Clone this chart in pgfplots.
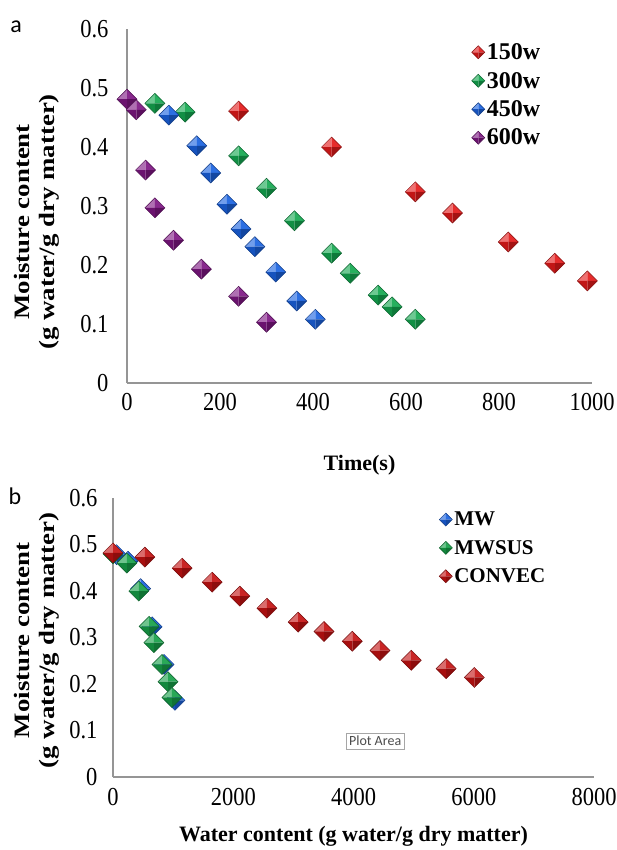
\documentclass[border=0pt]{standalone}
\usepackage{pgfplots}
\pgfplotsset{compat=1.18}
\usepackage{fontspec}
\setmainfont{Liberation Serif}
\newfontfamily\calibri{Carlito}

\definecolor{c150}{HTML}{E41A1A}
\definecolor{c300}{HTML}{14A850}
\definecolor{c450}{HTML}{1A62E0}
\definecolor{c600}{HTML}{7E1683}
\definecolor{cconv}{HTML}{C41212}
\definecolor{cmws}{HTML}{16A048}
\definecolor{axgray}{HTML}{959595}

% pyramid-style diamond mark, four shaded facets
\newcommand{\pyrmark}[2]{%
  \pgfdeclareplotmark{#1}{%
    \pgfsetfillcolor{#2!62!white}%
    \pgfpathmoveto{\pgfpointorigin}%
    \pgfpathlineto{\pgfqpoint{-\pgfplotmarksize}{0pt}}%
    \pgfpathlineto{\pgfqpoint{0pt}{\pgfplotmarksize}}%
    \pgfpathclose\pgfusepathqfill
    \pgfsetfillcolor{#2!92!white}%
    \pgfpathmoveto{\pgfpointorigin}%
    \pgfpathlineto{\pgfqpoint{0pt}{\pgfplotmarksize}}%
    \pgfpathlineto{\pgfqpoint{\pgfplotmarksize}{0pt}}%
    \pgfpathclose\pgfusepathqfill
    \pgfsetfillcolor{#2!72!black}%
    \pgfpathmoveto{\pgfpointorigin}%
    \pgfpathlineto{\pgfqpoint{\pgfplotmarksize}{0pt}}%
    \pgfpathlineto{\pgfqpoint{0pt}{-\pgfplotmarksize}}%
    \pgfpathclose\pgfusepathqfill
    \pgfsetfillcolor{#2!85!black}%
    \pgfpathmoveto{\pgfpointorigin}%
    \pgfpathlineto{\pgfqpoint{0pt}{-\pgfplotmarksize}}%
    \pgfpathlineto{\pgfqpoint{-\pgfplotmarksize}{0pt}}%
    \pgfpathclose\pgfusepathqfill
    \pgfsetstrokecolor{#2!60!black}%
    \pgfsetlinewidth{0.5pt}%
    \pgfpathmoveto{\pgfqpoint{0pt}{\pgfplotmarksize}}%
    \pgfpathlineto{\pgfqpoint{\pgfplotmarksize}{0pt}}%
    \pgfpathlineto{\pgfqpoint{0pt}{-\pgfplotmarksize}}%
    \pgfpathlineto{\pgfqpoint{-\pgfplotmarksize}{0pt}}%
    \pgfpathclose\pgfusepathqstroke
  }}
\pyrmark{m150}{c150}
\pyrmark{m300}{c300}
\pyrmark{m450}{c450}
\pyrmark{m600}{c600}
\pyrmark{mconv}{cconv}
\pyrmark{mmws}{cmws}

\newcommand{\ylab}{\scalebox{1.22}[1]{Moisture content}\\\scalebox{1.22}[1]{(g water/g dry matter)}}

\pgfplotsset{
  every axis/.append style={
    scale only axis,
    anchor=south west,
    axis x line*=bottom,
    axis y line*=left,
    axis line style={draw=axgray, line width=1.3pt},
    major tick length=0pt,
    ymin=0, ymax=0.6,
    ytick={0,0.1,0.2,0.3,0.4,0.5,0.6},
    /pgf/number format/assume math mode=true,
    /pgf/number format/set thousands separator={},
    xticklabel={\scalebox{1}[1.15]{\pgfmathprintnumber{\tick}}},
    yticklabel={\scalebox{1}[1.15]{\pgfmathprintnumber[fixed,precision=1]{\tick}}},
    tick label style={font=\fontsize{22.5}{24}\selectfont},
    label style={font=\bfseries\fontsize{22}{25}\selectfont, align=center},
    legend style={draw=none, fill=none, font=\bfseries\fontsize{24}{26}\selectfont,
      anchor=north west, row sep=7pt, inner sep=0pt},
    legend cell align=left,
    legend image code/.code={\draw[#1, mark size=6.5pt] plot coordinates {(0.23cm,0cm)};},
    only marks,
    mark size=10pt,
  },
}

\begin{document}
\begin{tikzpicture}
\useasboundingbox (0,0) rectangle (617pt,-850pt);

\begin{axis}[
    at={(127pt,-383pt)},
    width=465pt, height=354pt,
    xmin=0, xmax=1000,
    xtick={0,200,400,600,800,1000},
    xticklabel style={yshift=-7pt},
    yticklabel style={xshift=-15pt},
    xlabel={Time(s)},
    xlabel style={at={(axis description cs:0.5,0)}, anchor=center, yshift=-82pt},
    ylabel={\ylab},
    ylabel style={at={(axis description cs:-0.194,0.455)}, anchor=center},
    legend style={at={(axis description cs:0.741,0.965)}},
]
\addplot[mark=m150] coordinates {(240,0.461) (440,0.400) (620,0.324) (700,0.288) (820,0.239) (920,0.203) (990,0.173)};
\addlegendentry{150w}
\addplot[mark=m300] coordinates {(60,0.474) (125,0.459) (240,0.385) (300,0.330) (360,0.275) (440,0.220) (480,0.186) (540,0.149) (570,0.129) (620,0.108)};
\addlegendentry{300w}
\addplot[mark=m450] coordinates {(90,0.454) (150,0.402) (180,0.356) (215,0.303) (245,0.261) (275,0.231) (320,0.188) (365,0.139) (405,0.108)};
\addlegendentry{450w}
\addplot[mark=m600] coordinates {(0,0.481) (20,0.463) (40,0.361) (60,0.297) (100,0.242) (160,0.193) (240,0.147) (300,0.103)};
\addlegendentry{600w}
\end{axis}

\begin{axis}[
    at={(113pt,-777pt)},
    width=481pt, height=279pt,
    xmin=0, xmax=8000,
    xtick={0,2000,4000,6000,8000},
    xticklabel style={yshift=-8pt},
    yticklabel style={xshift=-12pt},
    xlabel={Water content (g water/g dry matter)},
    xlabel style={at={(axis description cs:0.5,0)}, anchor=center, yshift=-59pt},
    ylabel={\ylab},
    ylabel style={at={(axis description cs:-0.158,0.49)}, anchor=center},
    legend style={at={(axis description cs:0.678,0.958)}, font=\bfseries\fontsize{21}{23}\selectfont, row sep=9pt},
]
\addplot[mark=m450] coordinates {(60,0.478) (250,0.464) (460,0.405) (650,0.323) (850,0.242) (1030,0.165)};
\addlegendentry{MW}
\addplot[mark=mmws] coordinates {(0,0.480) (230,0.460) (430,0.400) (600,0.324) (680,0.289) (815,0.242) (915,0.205) (980,0.171)};
\addlegendentry{MWSUS}
\addplot[mark=mconv] coordinates {(0,0.482) (530,0.473) (1150,0.449) (1650,0.419) (2110,0.389) (2560,0.363) (3080,0.333) (3510,0.313) (3980,0.292) (4440,0.272) (4960,0.251) (5540,0.233) (6010,0.214)};
\addlegendentry{CONVEC}
\node[draw=gray!70, fill=white, inner sep=3pt, font=\calibri\fontsize{14}{15}\selectfont, text=black!70]
  at (axis description cs:0.545,0.129) {Plot Area};
\end{axis}

\node[font=\calibri\fontsize{24}{26}\selectfont] at (16pt,-27pt) {a};
\node[font=\calibri\fontsize{24}{26}\selectfont] at (15pt,-496pt) {b};
\end{tikzpicture}
\end{document}
